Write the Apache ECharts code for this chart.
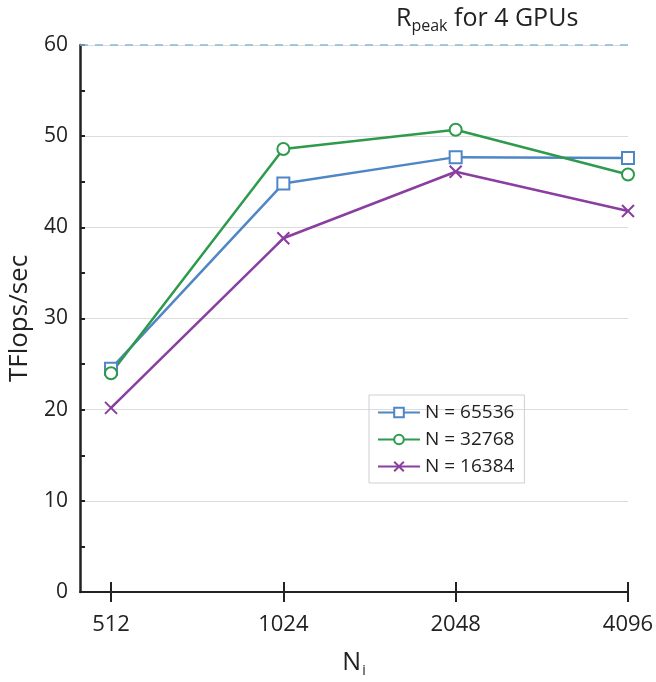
<!DOCTYPE html>
<html>
<head>
<meta charset="utf-8">
<script src="https://cdn.jsdelivr.net/npm/echarts@6/dist/echarts.min.js"></script>
<style>
  html, body { margin: 0; padding: 0; background: #fff; }
  #chart { width: 656px; height: 682px; }
</style>
</head>
<body>
<div id="chart"></div>
<script>
(function (echarts) {
    'use strict';

    // problem sizes on x, one point per category index
    const categories = ['512', '1024', '2048', '4096'];
    const seriesNames = ['N = 65536', 'N = 32768', 'N = 16384'];
    const n65536 = [24.5, 44.8, 47.7, 47.6];
    const n32768 = [24.0, 48.6, 50.7, 45.8];
    const n16384 = [20.2, 38.8, 46.1, 41.8];
    const yTicks = [0, 10, 20, 30, 40, 50, 60];
    const rPeak = 60;

    const font = '"Open Sans", "Liberation Sans", sans-serif';
    const colors = ['#4f86c6', '#2e9a4c', '#8a3e9f'];
    const crossSymbol = 'path://M0,0L10,10M10,0L0,10';

    const tickIdx = categories.map((c, i) => i);
    const toPoints = (vals) => vals.map((v, i) => [i, v]);

    const xBase = {
        type: 'value',
        min: -0.18,
        max: categories.length - 1,
        splitLine: {show: false}
    };

    const makeSeries = (name, vals, color, symbol, size) => ({
        name: name,
        type: 'line',
        data: toPoints(vals),
        symbol: symbol,
        symbolSize: size,
        showSymbol: true,
        lineStyle: {color: color, width: 2.5},
        itemStyle: {color: symbol === crossSymbol ? color : '#fff', borderColor: color, borderWidth: 2},
        emphasis: {disabled: true}
    });

    const blue = makeSeries(seriesNames[0], n65536, colors[0], 'rect', 12);
    blue.markLine = {
        silent: true,
        symbol: 'none',
        label: {show: false},
        lineStyle: {color: '#86bcd6', type: [8, 7], width: 1.5},
        data: [{yAxis: rPeak}]
    };

    const options = {
        animation: false,
        color: colors,
        textStyle: {fontFamily: font},
        grid: {left: 80, right: 28, top: 45, bottom: 90, outerBoundsMode: 'none'},
        legend: {
            orient: 'vertical',
            left: 369,
            top: 395,
            padding: [8, 10, 7, 8],
            itemGap: 8,
            itemWidth: 42,
            itemHeight: 12,
            borderColor: '#cfcfcf',
            borderWidth: 1,
            textStyle: {fontSize: 19, color: '#222', fontFamily: font},
            data: seriesNames
        },
        xAxis: [
            Object.assign({}, xBase, {
                name: '{n|N}{s|i}',
                nameLocation: 'middle',
                nameGap: 56,
                nameTextStyle: {
                    rich: {
                        n: {fontSize: 25, color: '#222', fontFamily: font},
                        s: {fontSize: 14, color: '#222', fontFamily: font, padding: [16, 0, 0, 1]}
                    }
                },
                axisLine: {show: true, lineStyle: {color: '#222', width: 2}},
                axisTick: {show: true, customValues: tickIdx, length: 10, lineStyle: {color: '#222', width: 2}},
                axisLabel: {
                    customValues: tickIdx,
                    margin: 22,
                    fontSize: 22,
                    color: '#222',
                    formatter: (v) => categories[Math.round(v)]
                }
            }),
            Object.assign({}, xBase, {
                position: 'bottom',
                axisLine: {show: false},
                axisTick: {show: true, inside: true, customValues: tickIdx, length: 10, lineStyle: {color: '#222', width: 2}},
                axisLabel: {show: false}
            })
        ],
        yAxis: {
            type: 'value',
            min: yTicks[0],
            max: yTicks[yTicks.length - 1],
            interval: 10,
            name: 'TFlops/sec',
            nameLocation: 'middle',
            nameGap: 45,
            nameRotate: 90,
            nameTextStyle: {fontSize: 26, color: '#222', fontFamily: font},
            axisLine: {show: true, onZero: false, lineStyle: {color: '#222', width: 2.5}},
            axisTick: {show: true, inside: true, length: 5, lineStyle: {color: '#222', width: 2}},
            minorTick: {show: true, splitNumber: 2, length: 5, lineStyle: {color: '#222', width: 2}},
            axisLabel: {fontSize: 21, color: '#222', margin: 12},
            splitLine: {show: true, lineStyle: {color: '#dcdcdc', width: 1}}
        },
        graphic: [{
            type: 'text',
            left: 396,
            top: 6,
            style: {
                text: '{r|R}{p|peak}{r| for 4 GPUs}',
                rich: {
                    r: {fontSize: 25, fill: '#222', fontFamily: font},
                    p: {fontSize: 16, fill: '#222', fontFamily: font, padding: [15, 0, 0, 0]}
                }
            }
        }],
        series: [
            blue,
            makeSeries(seriesNames[1], n32768, colors[1], 'circle', 12),
            makeSeries(seriesNames[2], n16384, colors[2], crossSymbol, 12)
        ]
    };

    const chart = echarts.init(document.getElementById('chart'), null, {renderer: 'canvas'});
    chart.setOption(options);
})(echarts);
</script>
</body>
</html>
